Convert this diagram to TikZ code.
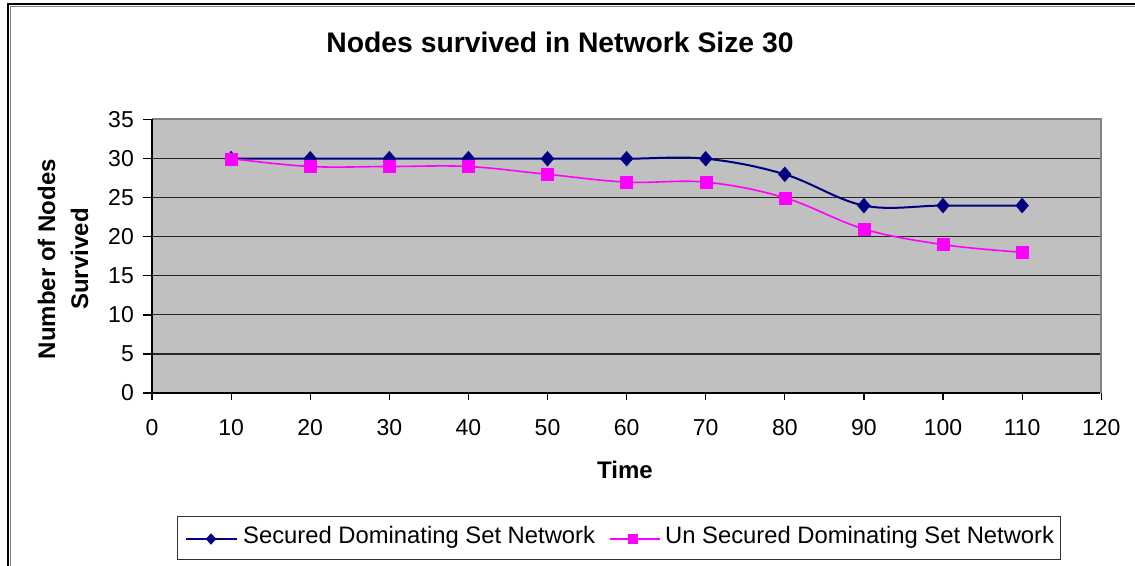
\documentclass[tikz,border=0pt]{standalone}
\usepackage{fontspec}
\setmainfont{Liberation Sans}
\usetikzlibrary{shapes.geometric}
\definecolor{navy}{HTML}{000080}
\definecolor{mag}{HTML}{FF00FF}
\definecolor{plotgray}{HTML}{C0C0C0}
\definecolor{edgegray}{HTML}{808080}
\begin{document}
\begin{tikzpicture}[x=1pt,y=-1pt,
  sdot/.style={diamond, fill=navy, draw=navy, inner sep=0pt, minimum width=13pt, minimum height=15pt},
  udot/.style={rectangle, fill=mag, draw=mag, inner sep=0pt, minimum size=12pt},
  sline/.style={draw=navy, line width=2pt},
  uline/.style={draw=mag, line width=1.6pt},
  ticklab/.style={font=\fontsize{23}{27}\selectfont, inner sep=0pt},
  axtitle/.style={font=\fontsize{24}{33}\selectfont\bfseries, inner sep=0pt},
  legtext/.style={font=\fontsize{23.8}{27}\selectfont, inner sep=0pt, anchor=west},
  grid/.style={draw=black!85, line width=1.1pt}]
\useasboundingbox (0,0) rectangle (1135,565);
\fill[white] (0,0) rectangle (1135,565);
% outer frame
\draw[edgegray, line width=1pt] (10,567) -- (10,6) -- (1137,6);
\draw[black, line width=2pt] (8,567) -- (8,4) -- (1137,4);
% title
\node[font=\fontsize{28.3}{32}\selectfont\bfseries, inner sep=0pt] (title) at (560,42) {Nodes survived in Network Size 30};
% plot area
\fill[plotgray] (152,119) rectangle (1101,393);
\draw[edgegray, line width=2pt] (152,119) -- (1101,119) -- (1101,393);
\foreach \v in {5,10,...,30} {
  \draw[grid] (152,{393-7.81*\v}) -- (1100,{393-7.81*\v});
}
\draw[black, line width=1.3pt] (152,119) -- (152,393) -- (1100,393);
\foreach \v in {0,5,...,35} {
  \draw[black, line width=1.2pt] (143,{393-7.81*\v}) -- (152,{393-7.81*\v});
  \node[ticklab, anchor=east] (yl\v) at (134,{393-7.81*\v}) {\v};
}
\foreach \v in {0,10,...,120} {
  \draw[black, line width=1.2pt] ({152+7.91*\v},393) -- ({152+7.91*\v},400);
  \node[ticklab] (xl\v) at ({152+7.91*\v},428) {\v};
}
\node[axtitle] (xtitle) at (625,470) {Time};
\node[axtitle, rotate=90, align=center] (ytitle) at (63,259) {Number of Nodes\\Survived};
% data
\begin{scope}[shift={(152,393)}, x=7.91pt, y=7.81pt]
  \draw[sline] (10,30) -- (60,30)
    .. controls (63.33,30) and (66.67,30.33) .. (70,30)
    .. controls (73.33,29.67) and (76.67,29) .. (80,28)
    .. controls (83.33,27) and (86.67,24.67) .. (90,24)
    .. controls (93.33,23.33) and (96.67,24) .. (100,24)
    -- (110,24);
  \foreach \xx/\yy [count=\i] in {10/30,20/30,30/30,40/30,50/30,60/30,70/30,80/28,90/24,100/24,110/24}
    \node[sdot] (s\i) at (\xx,\yy) {};
  \draw[uline] (10,30)
    .. controls (11.67,29.83) and (16.67,29.17) .. (20,29)
    .. controls (23.33,28.83) and (26.67,29) .. (30,29)
    .. controls (33.33,29) and (36.67,29.17) .. (40,29)
    .. controls (43.33,28.83) and (46.67,28.33) .. (50,28)
    .. controls (53.33,27.67) and (56.67,27.17) .. (60,27)
    .. controls (63.33,26.83) and (66.67,27.33) .. (70,27)
    .. controls (73.33,26.67) and (76.67,26) .. (80,25)
    .. controls (83.33,24) and (86.67,22) .. (90,21)
    .. controls (93.33,20) and (96.67,19.5) .. (100,19)
    .. controls (103.33,18.5) and (108.33,18.17) .. (110,18);
  \foreach \xx/\yy [count=\i] in {10/30,20/29,30/29,40/29,50/28,60/27,70/27,80/25,90/21,100/19,110/18}
    \node[udot] (u\i) at (\xx,\yy) {};
\end{scope}
% legend
\node[draw=black!80, line width=1pt, minimum width=883pt, minimum height=43pt, inner sep=0pt] (legend) at (618.5,537.5) {};
\coordinate (ls0) at (186,539);
\coordinate (ls1) at (237,539);
\draw[sline, line width=1.8pt] (ls0) -- (ls1);
\node[sdot, minimum width=10pt, minimum height=11pt] (lsm) at (211,539) {};
\node[legtext] (lst) at (243,537) {Secured Dominating Set Network};
\coordinate (lu0) at (610,539);
\coordinate (lu1) at (660,539);
\draw[uline] (lu0) -- (lu1);
\node[udot, minimum size=9pt] (lum) at (633,539) {};
\node[legtext] (lut) at (665,537) {Un Secured Dominating Set Network};
\end{tikzpicture}
\end{document}
